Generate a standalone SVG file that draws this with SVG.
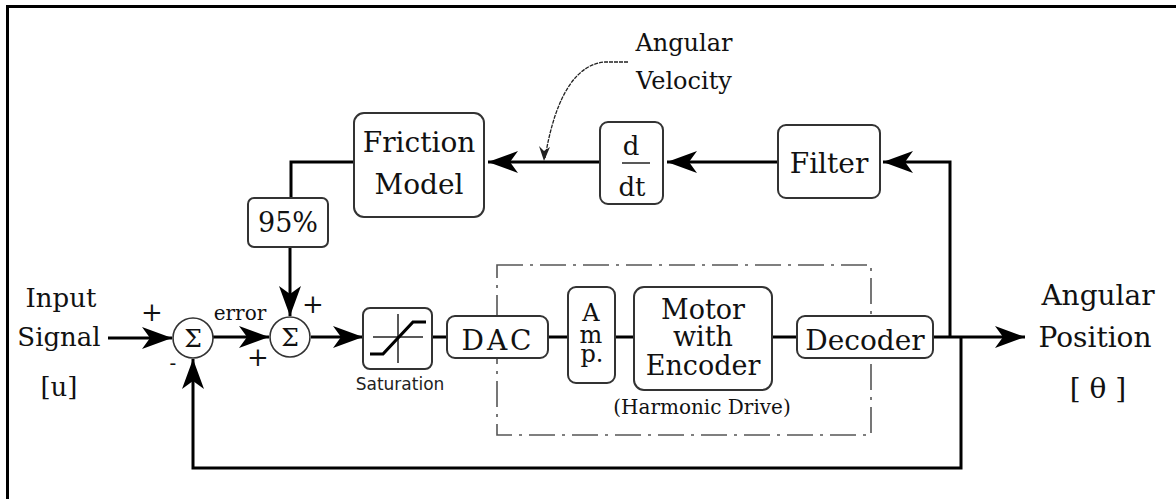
<svg xmlns="http://www.w3.org/2000/svg" width="1176" height="499" viewBox="0 0 1176 499">
  <style>
    .box { fill: #fff; stroke: #333; stroke-width: 2; }
    .sum { fill: #fff; stroke: #333; stroke-width: 1.6; }
    .wire { fill: none; stroke: #000; stroke-width: 3; }
    .arrow { fill: none; stroke: #000; stroke-width: 3; marker-end: url(#head); }
    .lbl { font-family: "DejaVu Serif", "Liberation Serif", serif; font-size: 28px; fill: #111; text-anchor: middle; }
    .sm { font-size: 20px; }
    .mid { font-size: 24px; }
    .in { font-size: 26px; }
    .sig { font-size: 25px; }
    .sign { font-family: "DejaVu Serif", serif; font-size: 26px; fill: #111; text-anchor: middle; }
    .frame { fill: #000; }
  </style>
  <defs>
    <marker id="head" viewBox="0 0 30 22" refX="30" refY="11" markerWidth="30" markerHeight="22" markerUnits="userSpaceOnUse" orient="auto">
      <path d="M0,0 L30,11 L0,22 L8,11 Z" fill="#000"/>
    </marker>
  </defs>

  <!-- outer frame (top and left edges) -->
  <rect class="frame" x="6" y="5" width="1170" height="3"/>
  <rect class="frame" x="6" y="5" width="3" height="494"/>

  <!-- signal connectors -->
  <g id="connectors">
    <line class="arrow" x1="108" y1="338" x2="172" y2="338"/>
    <line class="arrow" x1="213" y1="337" x2="269" y2="337"/>
    <line class="arrow" x1="311" y1="337" x2="363" y2="337"/>
    <line class="wire" x1="432" y1="337" x2="447" y2="337"/>
    <line class="wire" x1="548" y1="337" x2="568" y2="337"/>
    <line class="wire" x1="615" y1="337" x2="634" y2="337"/>
    <line class="wire" x1="772" y1="337" x2="797" y2="337"/>
    <line class="arrow" x1="933" y1="337" x2="1025" y2="337"/>
    <polyline class="arrow" points="950,337 950,162 883,162"/>
    <line class="arrow" x1="778" y1="162" x2="667" y2="162"/>
    <line class="arrow" x1="600" y1="162" x2="488" y2="162"/>
    <polyline class="wire" points="354,162 291,162 291,198"/>
    <line class="arrow" x1="290" y1="247" x2="290" y2="316"/>
    <polyline class="arrow" points="961,337 961,468 193,468 193,359"/>
    <!-- pointer to the velocity signal -->
    <path d="M628,62 L605,62 C578,64 556,92 545,158" fill="none" stroke="#222" stroke-width="1.3" stroke-dasharray="4 1"/>
    <path d="M539,146 L544,161 L550,147 L544,151 Z" fill="#222"/>
  </g>

  <!-- drive hardware enclosure -->
  <rect id="drive-group" x="497" y="265" width="374" height="170" fill="none" stroke="#555" stroke-width="1.6" stroke-dasharray="26 7 3 7"/>

  <g id="input">
    <text class="lbl in" x="61" y="307">Input</text>
    <text class="lbl in" x="59" y="346">Signal</text>
    <text class="lbl in" x="59" y="396">[u]</text>
  </g>

  <g id="sum1">
    <circle class="sum" cx="193" cy="338" r="20"/>
    <text class="lbl sig" x="193" y="347">Σ</text>
    <text class="sign" x="152" y="321">+</text>
    <text class="sign" x="173" y="370" style="font-size:20px">-</text>
  </g>

  <text id="error-label" class="lbl sm" x="240" y="320">error</text>

  <g id="sum2">
    <circle class="sum" cx="290" cy="337" r="20"/>
    <text class="lbl sig" x="290" y="346">Σ</text>
    <text class="sign" x="313" y="313">+</text>
    <text class="sign" x="258" y="366">+</text>
  </g>

  <g id="saturation">
    <rect class="box" x="363" y="308" width="69" height="61" rx="7"/>
    <line x1="373" y1="337" x2="423" y2="337" stroke="#222" stroke-width="1.5"/>
    <line x1="398" y1="314" x2="398" y2="363" stroke="#222" stroke-width="1.5"/>
    <polyline points="370,354 383,354 413,322 426,322" fill="none" stroke="#000" stroke-width="3.2"/>
    <text x="400" y="390" font-family="DejaVu Sans, sans-serif" font-size="17" fill="#222" text-anchor="middle">Saturation</text>
  </g>

  <g id="dac">
    <rect class="box" x="447" y="316" width="101" height="42" rx="8"/>
    <text class="lbl" x="498" y="350" letter-spacing="3">DAC</text>
  </g>

  <g id="amp">
    <rect class="box" x="568" y="287" width="47" height="96" rx="8"/>
    <text class="lbl mid" x="591" y="321">A</text>
    <text class="lbl mid" x="591" y="343">m</text>
    <text class="lbl mid" x="592" y="362">p.</text>
  </g>

  <g id="motor">
    <rect class="box" x="634" y="287" width="138" height="103" rx="10"/>
    <text class="lbl" x="703" y="319" style="font-size:27px">Motor</text>
    <text class="lbl" x="703" y="346" style="font-size:27px">with</text>
    <text class="lbl" x="703" y="375" style="font-size:27px">Encoder</text>
    <text class="lbl sm" x="702" y="414">(Harmonic Drive)</text>
  </g>

  <g id="decoder">
    <rect class="box" x="797" y="316" width="136" height="42" rx="8"/>
    <text class="lbl" x="865" y="350">Decoder</text>
  </g>

  <g id="output">
    <text class="lbl" x="1098" y="305">Angular</text>
    <text class="lbl" x="1095" y="347">Position</text>
    <text class="lbl" x="1098" y="398">[ θ ]</text>
  </g>

  <g id="filter">
    <rect class="box" x="778" y="125" width="102" height="73" rx="8"/>
    <text class="lbl" x="829" y="173">Filter</text>
  </g>

  <g id="derivative">
    <rect class="box" x="600" y="122" width="63" height="82" rx="8"/>
    <text class="lbl in" x="631" y="155">d</text>
    <line x1="622" y1="163" x2="650" y2="163" stroke="#222" stroke-width="1.5"/>
    <text class="lbl in" x="632" y="196">dt</text>
  </g>

  <g id="friction">
    <rect class="box" x="354" y="113" width="130" height="104" rx="10"/>
    <text class="lbl" x="419" y="152">Friction</text>
    <text class="lbl" x="419" y="194">Model</text>
  </g>

  <g id="gain">
    <rect class="box" x="248" y="198" width="80" height="49" rx="6"/>
    <text class="lbl" x="288" y="232" style="font-size:27px">95%</text>
  </g>

  <g id="velocity-note">
    <text class="lbl mid" x="684" y="51">Angular</text>
    <text class="lbl mid" x="684" y="89">Velocity</text>
  </g>
</svg>
